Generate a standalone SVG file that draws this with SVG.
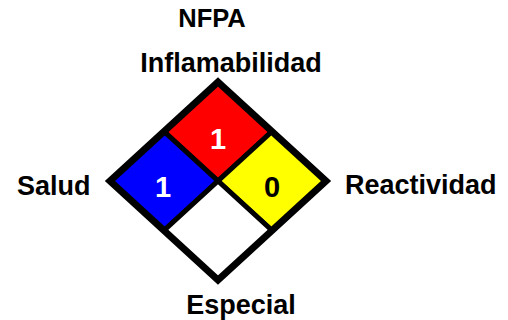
<svg xmlns="http://www.w3.org/2000/svg" width="508" height="320" viewBox="0 0 508 320">
<style>
text{font-family:"Liberation Sans",Arial,sans-serif;font-weight:bold;}
.lbl{font-size:27px;fill:#000;}
.num{font-size:29px;text-anchor:middle;}
.q{stroke:#000;stroke-width:5;stroke-linejoin:miter;}
</style>
<rect width="508" height="320" fill="#fff"/>
<text x="212" y="27" font-size="25.5" text-anchor="middle">NFPA</text>
<g id="inflamabilidad">
<polygon class="q" fill="#ff0000" points="218,82 272,131.5 218,181 164,131.5"/>
<text class="num" x="218" y="149" fill="#fff">1</text>
</g>
<g id="salud">
<polygon class="q" fill="#0000ff" points="164,131.5 218,181 164,230.5 110,181"/>
<text class="num" x="163" y="197" fill="#fff">1</text>
</g>
<g id="reactividad">
<polygon class="q" fill="#ffff00" points="272,131.5 326,181 272,230.5 218,181"/>
<text class="num" x="272" y="197" fill="#000">0</text>
</g>
<g id="especial">
<polygon class="q" fill="#ffffff" points="218,181 272,230.5 218,280 164,230.5"/>
</g>
<polygon points="218,82 326,181 218,280 110,181" fill="none" stroke="#000" stroke-width="7" stroke-linejoin="miter"/>
<text class="lbl" x="231" y="72" text-anchor="middle" font-size="28">Inflamabilidad</text>
<text class="lbl" x="17" y="195">Salud</text>
<text class="lbl" x="345" y="194">Reactividad</text>
<text class="lbl" x="241" y="314" text-anchor="middle">Especial</text>
</svg>
